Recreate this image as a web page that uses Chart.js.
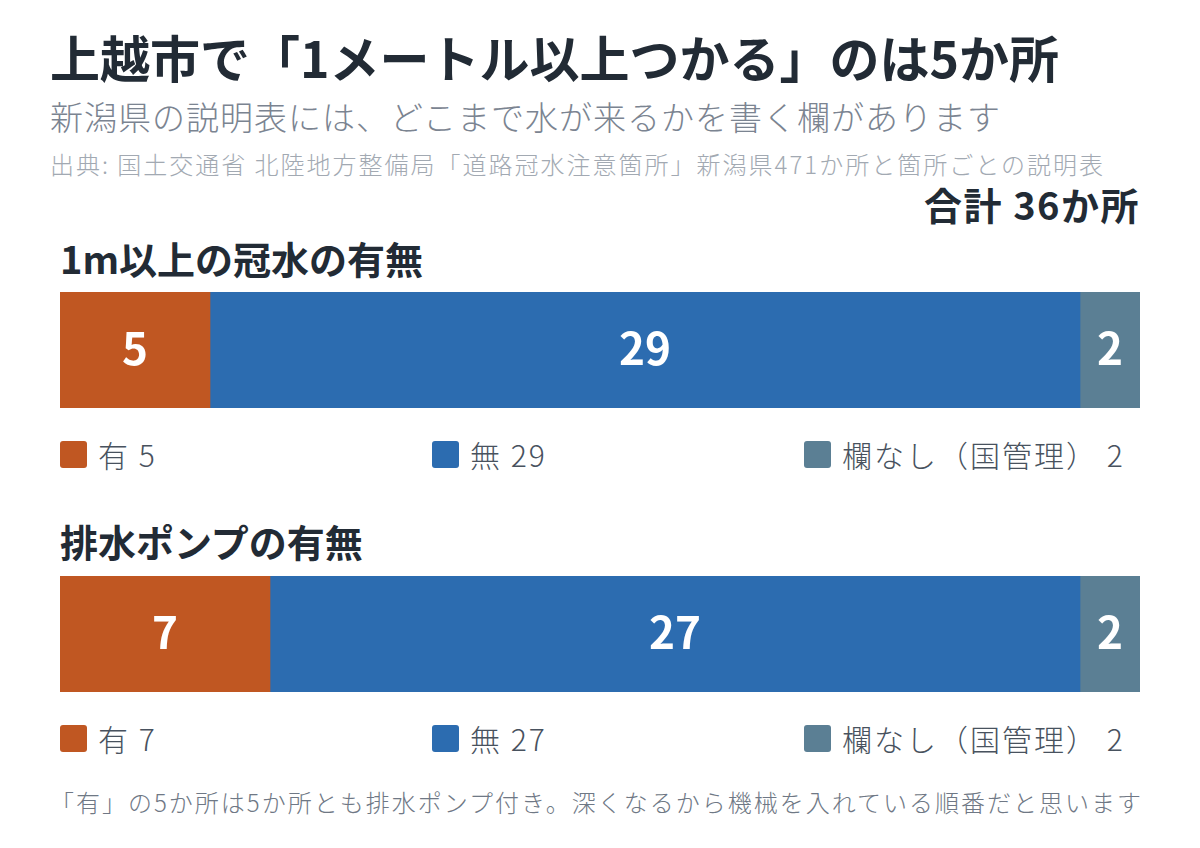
<!DOCTYPE html>
<html lang="ja">
<head>
<meta charset="utf-8">
<script src="https://cdn.jsdelivr.net/npm/chart.js@4.4.1/dist/chart.umd.min.js"></script>
<style>
  html, body { margin: 0; padding: 0; background: #fff; }
  #page { position: relative; width: 1200px; height: 848px; overflow: hidden;
          font-family: "Noto Sans CJK JP", "Noto Sans", sans-serif; color: #222b35; }
  .abs { position: absolute; white-space: nowrap; line-height: 1; }
  #title { left: 50px; top: 31px; font-size: 50px; font-weight: 700; }
  #subtitle { left: 50px; top: 100px; font-size: 33px; font-weight: 300; color: #7b8491; letter-spacing: 1px; }
  #source { left: 50px; top: 152px; font-size: 24px; font-weight: 300; color: #a2a9b2; letter-spacing: 2px; }
  #total { right: 60px; top: 185px; font-size: 38px; font-weight: 700; letter-spacing: 1.5px; }
  .head { left: 60px; font-size: 38px; font-weight: 700; }
  .bar { position: absolute; left: 60px; width: 1080px; height: 116px; }
  .legend { position: absolute; left: 60px; width: 1080px; height: 34px; }
  .item { position: absolute; top: 0; display: flex; align-items: center; height: 34px;
          font-size: 30px; font-weight: 300; color: #48525e; white-space: nowrap; letter-spacing: 2px; }
  .sw { width: 27px; height: 27px; border-radius: 3px; margin-right: 11px; }
  #note { left: 50px; top: 790px; font-size: 24px; font-weight: 300; color: #6f7885; letter-spacing: 2px; }
</style>
</head>
<body>
<div id="page">
  <div id="title" class="abs">上越市で「1メートル以上つかる」のは5か所</div>
  <div id="subtitle" class="abs">新潟県の説明表には、どこまで水が来るかを書く欄があります</div>
  <div id="source" class="abs">出典: 国土交通省 北陸地方整備局「道路冠水注意箇所」新潟県471か所と箇所ごとの説明表</div>
  <div id="total" class="abs">合計 36か所</div>

  <div class="abs head" style="top:239px">1m以上の冠水の有無</div>
  <div class="bar" style="top:292px"><canvas id="chart1"></canvas></div>
  <div class="legend" id="legend1" style="top:437px"></div>

  <div class="abs head" style="top:522px">排水ポンプの有無</div>
  <div class="bar" style="top:576px"><canvas id="chart2"></canvas></div>
  <div class="legend" id="legend2" style="top:721px"></div>

  <div id="note" class="abs">「有」の5か所は5か所とも排水ポンプ付き。深くなるから機械を入れている順番だと思います</div>
</div>
<script>
// categories and values
const categories = ["有", "無", "欄なし（国管理）"]
const floodValues = [5, 29, 2]
const pumpValues = [7, 27, 2]
const colors = ["#c05722", "#2c6cb0", "#5b7f94"]
const totalCount = 36
const legendOffsets = [0, 372, 744]

// white value labels at the middle of each segment
const segmentLabels = {
  id: "segmentLabels",
  afterDatasetsDraw(chart) {
    const ctx = chart.ctx
    ctx.save()
    ctx.fillStyle = "#ffffff"
    ctx.font = "700 44px 'Noto Sans CJK JP', sans-serif"
    ctx.textAlign = "center"
    ctx.textBaseline = "middle"
    chart.data.datasets.forEach((ds, i) => {
      chart.getDatasetMeta(i).data.forEach(bar => {
        const x = (bar.x + bar.base) / 2
        ctx.fillText(ds.data[0], x, bar.y - 2)
      })
    })
    ctx.restore()
  }
}

function makeBar(id, values) {
  new Chart(document.getElementById(id), {
    type: "bar",
    data: {
      labels: [""],
      datasets: categories.map((c, i) => ({
        label: c,
        data: [values[i]],
        backgroundColor: colors[i],
        borderWidth: 0,
        barPercentage: 1,
        categoryPercentage: 1
      }))
    },
    options: {
      indexAxis: "y",
      responsive: true,
      maintainAspectRatio: false,
      animation: false,
      layout: { padding: 0 },
      plugins: { legend: { display: false }, tooltip: { enabled: false } },
      scales: {
        x: { stacked: true, min: 0, max: totalCount, display: false },
        y: { stacked: true, display: false }
      }
    },
    plugins: [segmentLabels]
  })
}

function makeLegend(id, values) {
  const box = document.getElementById(id)
  categories.forEach((c, i) => {
    const item = document.createElement("div")
    item.className = "item"
    item.style.left = legendOffsets[i] + "px"
    item.innerHTML = '<span class="sw" style="background:' + colors[i] + '"></span>' + c + " " + values[i]
    box.appendChild(item)
  })
}

makeBar("chart1", floodValues)
makeBar("chart2", pumpValues)
makeLegend("legend1", floodValues)
makeLegend("legend2", pumpValues)
</script>
</body>
</html>
